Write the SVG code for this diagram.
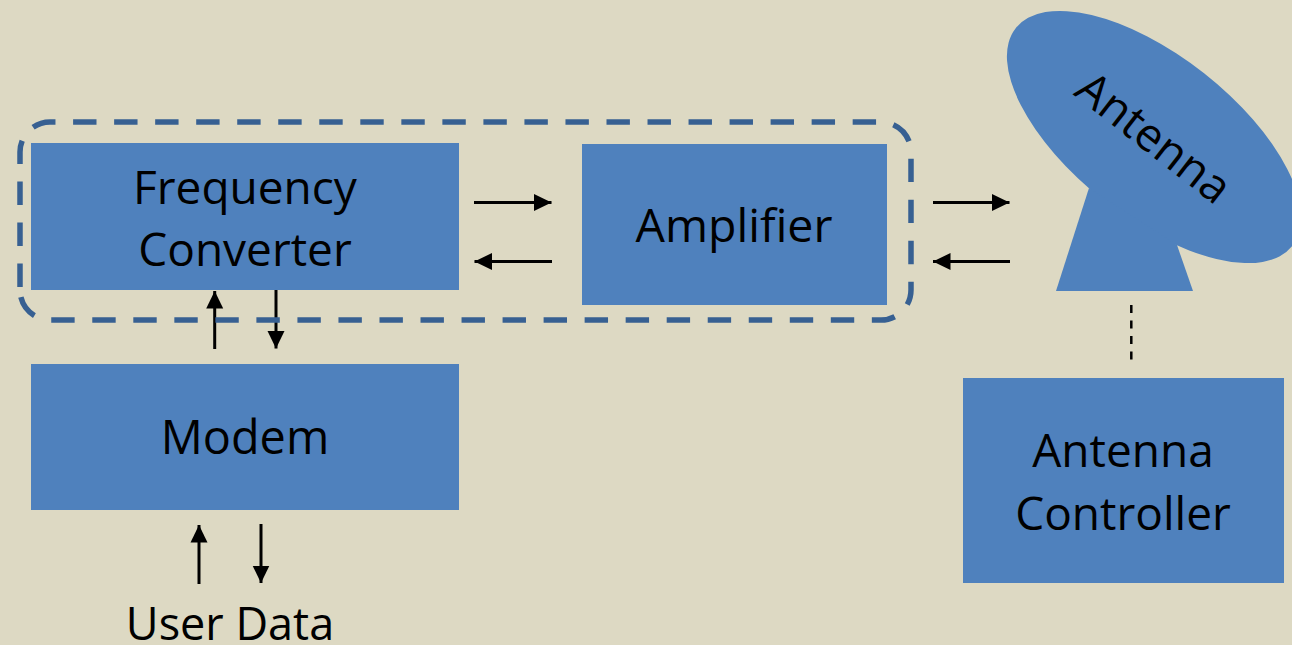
<svg xmlns="http://www.w3.org/2000/svg" width="1292" height="645" viewBox="0 0 1292 645">
<style>
.n{fill:#4f81bd}
.t{font-family:"Open Sans","Noto Sans",sans-serif;font-size:46px;fill:#000;text-anchor:middle}
.c{stroke:#000;stroke-width:3;fill:none}
</style>
<defs>
<marker id="a" markerUnits="userSpaceOnUse" markerWidth="18" markerHeight="18" refX="17.5" refY="9" orient="auto"><path d="M0 .5L17.5 9L0 17.500Z" fill="#000"/></marker>
</defs>
<rect width="1292" height="645" fill="#ddd9c3"/>
<g id="freq"><rect class="n" x="31" y="143" width="428" height="147"/><text class="t" x="245" y="204">Frequency</text><text class="t" x="245" y="266">Converter</text></g>
<g id="amp"><rect class="n" x="582" y="144" width="305" height="161"/><text class="t" x="734" y="242" style="font-size:46.5px">Amplifier</text></g>
<g id="modem"><rect class="n" x="31" y="364" width="428" height="146"/><text class="t" x="245" y="454" style="font-size:46.8px">Modem</text></g>
<g id="ctrl"><rect class="n" x="963" y="378" width="321" height="205"/><text class="t" x="1123" y="467">Antenna</text><text class="t" x="1123" y="530">Controller</text></g>
<g id="antenna"><ellipse class="n" cx="1154" cy="137" rx="176" ry="81" transform="rotate(38.2 1154 137)"/><path class="n" d="M1056 291L1089 188L1177 245L1193 291Z"/><text class="t" transform="translate(1144 150) rotate(38)">Antenna</text></g>
<g id="user"><text class="t" x="230" y="640" style="font-size:45px">User Data</text></g>
<g id="connectors">
<path class="c" marker-end="url(#a)" d="M474 202.500H551.500"/>
<path class="c" marker-end="url(#a)" d="M552 261.500H474.500"/>
<path class="c" marker-end="url(#a)" d="M933 202.500H1009.500"/>
<path class="c" marker-end="url(#a)" d="M1010 261.500H933"/>
<path class="c" marker-end="url(#a)" d="M214.700 349V291"/>
<path class="c" marker-end="url(#a)" d="M276 290V348.500"/>
<path class="c" marker-end="url(#a)" d="M199 584V525"/>
<path class="c" marker-end="url(#a)" d="M261 524V583"/>
<path d="M1131.300 305V360" stroke="#000" stroke-width="2.500" stroke-dasharray="8 7.500" fill="none"/>
</g>
<g id="boundary"><path d="M20 287V152A30 30 0 0 1 50 122H881A30 30 0 0 1 911 152V290A30 30 0 0 1 881 320H50A30 30 0 0 1 20 290Z" fill="none" stroke="#376092" stroke-width="5.500" stroke-dasharray="23.400 17.630"/></g>
</svg>
